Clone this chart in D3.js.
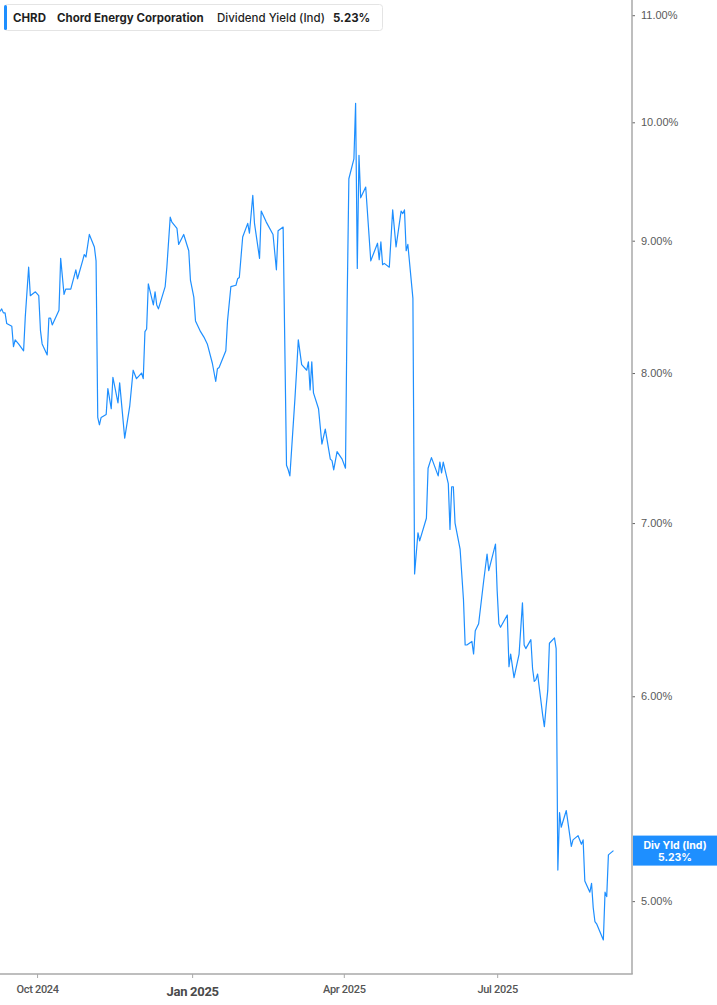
<!DOCTYPE html>
<html>
<head>
<meta charset="utf-8">
<script src="https://cdn.jsdelivr.net/npm/d3@7"></script>
<style>
  body { margin: 0; background: #fff; }
  svg { display: block; }
</style>
</head>
<body>
<svg id="chart"></svg>
<script>
// CHRD indicated dividend yield, daily closes (%)
const dates = [
  "2024-09-09", "2024-09-10", "2024-09-11", "2024-09-12", "2024-09-13", "2024-09-16", "2024-09-17", "2024-09-18",
  "2024-09-20", "2024-09-23", "2024-09-24", "2024-09-26", "2024-09-27", "2024-09-30",
  "2024-10-02", "2024-10-03", "2024-10-04", "2024-10-07", "2024-10-08", "2024-10-09", "2024-10-10", "2024-10-14",
  "2024-10-15", "2024-10-17", "2024-10-18", "2024-10-21", "2024-10-24", "2024-10-25", "2024-10-28", "2024-10-29",
  "2024-10-30",
  "2024-11-01", "2024-11-04", "2024-11-05", "2024-11-06", "2024-11-07", "2024-11-08", "2024-11-11", "2024-11-12",
  "2024-11-14", "2024-11-15", "2024-11-18", "2024-11-19", "2024-11-22", "2024-11-25", "2024-11-27", "2024-11-29",
  "2024-12-02", "2024-12-03", "2024-12-04", "2024-12-05", "2024-12-06", "2024-12-09", "2024-12-10", "2024-12-11",
  "2024-12-12", "2024-12-16", "2024-12-17", "2024-12-19", "2024-12-20", "2024-12-23", "2024-12-24", "2024-12-27",
  "2024-12-30", "2024-12-31",
  "2025-01-02", "2025-01-03", "2025-01-06", "2025-01-08", "2025-01-10", "2025-01-13", "2025-01-15", "2025-01-16",
  "2025-01-17", "2025-01-21", "2025-01-22", "2025-01-24", "2025-01-27", "2025-01-28", "2025-01-29", "2025-01-31",
  "2025-02-03", "2025-02-04", "2025-02-06", "2025-02-07", "2025-02-10", "2025-02-11", "2025-02-14", "2025-02-18",
  "2025-02-20", "2025-02-21", "2025-02-24", "2025-02-26", "2025-02-27", "2025-02-28",
  "2025-03-03", "2025-03-04", "2025-03-05", "2025-03-07", "2025-03-10", "2025-03-11", "2025-03-12", "2025-03-13",
  "2025-03-14", "2025-03-17", "2025-03-19", "2025-03-21", "2025-03-24", "2025-03-25", "2025-03-26", "2025-03-28",
  "2025-03-31",
  "2025-04-02", "2025-04-03", "2025-04-04", "2025-04-07", "2025-04-08", "2025-04-09", "2025-04-10", "2025-04-11",
  "2025-04-14", "2025-04-17", "2025-04-21", "2025-04-22", "2025-04-23", "2025-04-24", "2025-04-25", "2025-04-28",
  "2025-04-30",
  "2025-05-02", "2025-05-05", "2025-05-06", "2025-05-07", "2025-05-08", "2025-05-09", "2025-05-12", "2025-05-13",
  "2025-05-15", "2025-05-16", "2025-05-20", "2025-05-21", "2025-05-23", "2025-05-27", "2025-05-28", "2025-05-29",
  "2025-05-30",
  "2025-06-02", "2025-06-03", "2025-06-04", "2025-06-05", "2025-06-06", "2025-06-09", "2025-06-11", "2025-06-12",
  "2025-06-13", "2025-06-16", "2025-06-17", "2025-06-18", "2025-06-20", "2025-06-23", "2025-06-25", "2025-06-26",
  "2025-06-30",
  "2025-07-01", "2025-07-02", "2025-07-03", "2025-07-07", "2025-07-08", "2025-07-09", "2025-07-11", "2025-07-14",
  "2025-07-16", "2025-07-17", "2025-07-18", "2025-07-21", "2025-07-22", "2025-07-23", "2025-07-24", "2025-07-25",
  "2025-07-28", "2025-07-29", "2025-07-30", "2025-07-31",
  "2025-08-01", "2025-08-04", "2025-08-05", "2025-08-06", "2025-08-07", "2025-08-08", "2025-08-11", "2025-08-14",
  "2025-08-15", "2025-08-18", "2025-08-20", "2025-08-21", "2025-08-22", "2025-08-25", "2025-08-26", "2025-08-27",
  "2025-08-28", "2025-08-29",
  "2025-09-02", "2025-09-03", "2025-09-04", "2025-09-05", "2025-09-08"
];

const yields = [
  8.45, 8.47, 8.44, 8.44, 8.36, 8.34, 8.19, 8.24,
  8.21, 8.16, 8.41, 8.79, 8.57, 8.60,
  8.57, 8.31, 8.21, 8.13, 8.40, 8.40, 8.35, 8.46,
  8.86, 8.58, 8.62, 8.62, 8.77, 8.70, 8.84, 8.89,
  8.87,
  9.05, 8.95, 8.84, 7.69, 7.64, 7.69, 7.71, 7.89,
  7.75, 7.97, 7.79, 7.93, 7.55, 7.77, 8.02, 7.96,
  8.00, 7.96, 8.30, 8.32, 8.66, 8.50, 8.60, 8.50,
  8.47, 8.64, 8.79, 9.19, 9.15, 9.10, 8.97, 9.05,
  8.92, 8.69,
  8.56, 8.38, 8.30, 8.26, 8.21, 8.07, 7.94, 8.03,
  8.04, 8.16, 8.38, 8.64, 8.65, 8.70, 8.71, 9.03,
  9.14, 9.06, 9.37, 9.14, 8.86, 9.24, 9.15, 9.05,
  8.77, 9.08, 9.11, 7.37, 7.34, 7.30,
  7.82, 8.02, 8.24, 8.06, 8.02, 8.08, 7.88, 8.08,
  7.86, 7.75, 7.51, 7.61, 7.41, 7.40, 7.34, 7.46,
  7.41,
  7.35, 8.53, 9.51, 9.68, 10.17, 8.78, 9.71, 9.35,
  9.44, 8.84, 8.98, 8.85, 8.99, 8.81, 8.82, 8.79,
  9.25,
  8.95, 9.24, 9.22, 9.25, 8.92, 8.97, 8.55, 6.69,
  6.94, 6.89, 7.03, 7.35, 7.42, 7.30, 7.39, 7.32,
  7.39,
  7.25, 6.96, 7.23, 7.23, 7.00, 6.84, 6.54, 6.28,
  6.28, 6.30, 6.23, 6.36, 6.40, 6.65, 6.81, 6.71,
  6.87,
  6.59, 6.40, 6.38, 6.45, 6.16, 6.23, 6.10, 6.23,
  6.52, 6.28, 6.26, 6.31, 6.15, 6.08, 6.09, 6.12,
  5.90, 5.84, 5.94, 6.03,
  6.29, 6.32, 6.26, 5.14, 5.41, 5.34, 5.42, 5.25,
  5.28, 5.30, 5.26, 5.28, 5.09, 5.04, 5.08, 4.97,
  4.91, 4.90,
  4.83, 5.04, 5.02, 5.21, 5.23
];

const yTicks = [5, 6, 7, 8, 9, 10, 11];
const xTickDates = ["2024-10-01", "2025-01-01", "2025-04-01", "2025-07-01"];
const xTickLabels = ["Oct 2024", "Jan 2025", "Apr 2025", "Jul 2025"];
const headerParts = ["CHRD", "Chord Energy Corporation", "Dividend Yield (Ind)", "5.23%"];
const endLabel = ["Div Yld (Ind)", "5.23%"];

const width = 717, height = 1005;
const plotRight = 632, plotBottom = 974;
const blue = "#1e8fff";

const parse = d3.timeParse("%Y-%m-%d");
const data = dates.map((d, i) => ({ date: parse(d), v: yields[i] }));

const x = d3.scaleTime()
  .domain([parse("2024-09-09"), parse("2025-09-19")])
  .range([0, plotRight]);

const y = d3.scaleLog()
  .domain([4.686, 11.15])
  .range([plotBottom, 0]);

const svg = d3.select("#chart")
  .attr("width", width)
  .attr("height", height)
  .attr("viewBox", [0, 0, width, height]);

// the yield line
const line = d3.line()
  .x(d => x(d.date))
  .y(d => y(d.v));

svg.append("path")
  .datum(data)
  .attr("fill", "none")
  .attr("stroke", blue)
  .attr("stroke-width", 1.2)
  .attr("stroke-linejoin", "round")
  .attr("d", line);

// right axis (log scale)
const yAxis = svg.append("g")
  .attr("transform", `translate(${plotRight},0)`)
  .call(d3.axisRight(y)
    .tickValues(yTicks)
    .tickFormat(d => d.toFixed(2) + "%")
    .tickSize(3)
    .tickSizeOuter(0)
    .tickPadding(6));

yAxis.select(".domain").remove();
yAxis.selectAll(".tick line").attr("stroke", "#666");
yAxis.selectAll(".tick text")
  .attr("fill", "#5a5a5a")
  .attr("font-family", "'Liberation Sans', Arial, sans-serif")
  .attr("font-size", 11);

svg.append("line")
  .attr("x1", plotRight).attr("x2", plotRight)
  .attr("y1", 0).attr("y2", plotBottom)
  .attr("stroke", "#a9a9a9")
  .attr("stroke-width", 1.5);

// bottom axis
const xAxis = svg.append("g")
  .attr("transform", `translate(0,${plotBottom})`)
  .call(d3.axisBottom(x)
    .tickValues(xTickDates.map(parse))
    .tickFormat((d, i) => xTickLabels[i])
    .tickSize(4)
    .tickSizeOuter(0)
    .tickPadding(7));

xAxis.select(".domain").remove();
xAxis.selectAll(".tick line").attr("stroke", "#a9a9a9");
xAxis.selectAll(".tick text")
  .attr("fill", "#555")
  .attr("font-family", "Roboto, sans-serif")
  .attr("font-size", 11)
  .attr("font-weight", 500)
  .attr("letter-spacing", -0.3);

// year boundary label is bold and a bit larger
xAxis.selectAll(".tick text")
  .filter((d, i) => xTickLabels[i].startsWith("Jan"))
  .attr("font-size", 13)
  .attr("font-weight", 700)
  .attr("y", 13)
  .attr("fill", "#4a4a4a");

svg.append("line")
  .attr("x1", 0).attr("x2", plotRight + 0.75)
  .attr("y1", plotBottom).attr("y2", plotBottom)
  .attr("stroke", "#a9a9a9")
  .attr("stroke-width", 1.5);

// last value flag on the axis
const last = data[data.length - 1];
const flag = svg.append("g")
  .attr("transform", `translate(${plotRight + 1},${y(last.v)})`);

flag.append("rect")
  .attr("x", 0)
  .attr("y", -15)
  .attr("width", width - plotRight - 1)
  .attr("height", 30)
  .attr("fill", blue);

flag.selectAll("text")
  .data(endLabel)
  .join("text")
  .attr("x", (width - plotRight - 1) / 2)
  .attr("y", (d, i) => i === 0 ? -2 : 10)
  .attr("text-anchor", "middle")
  .attr("fill", "#fff")
  .attr("font-family", "Inter, 'Noto Sans', sans-serif")
  .attr("font-size", 10.5)
  .attr("font-weight", 700)
  .text(d => d);

// header box
const header = svg.append("g");

header.append("rect")
  .attr("x", 4.5).attr("y", 4.5)
  .attr("width", 378).attr("height", 26)
  .attr("rx", 3)
  .attr("fill", "#fff")
  .attr("stroke", "#e4e4e4");

header.append("rect")
  .attr("x", 4).attr("y", 5)
  .attr("width", 3).attr("height", 25)
  .attr("rx", 1.5)
  .attr("fill", blue);

const headerX = [13, 57, 217, 333];
header.selectAll("text.h")
  .data(headerParts)
  .join("text")
  .attr("class", "h")
  .attr("x", (d, i) => headerX[i])
  .attr("y", 21.5)
  .attr("fill", "#1f1f1f")
  .attr("font-family", "Inter, 'Noto Sans', sans-serif")
  .attr("font-size", 11.5)
  .attr("font-weight", (d, i) => i === 2 ? 500 : 700)
  .text(d => d);
</script>
</body>
</html>
